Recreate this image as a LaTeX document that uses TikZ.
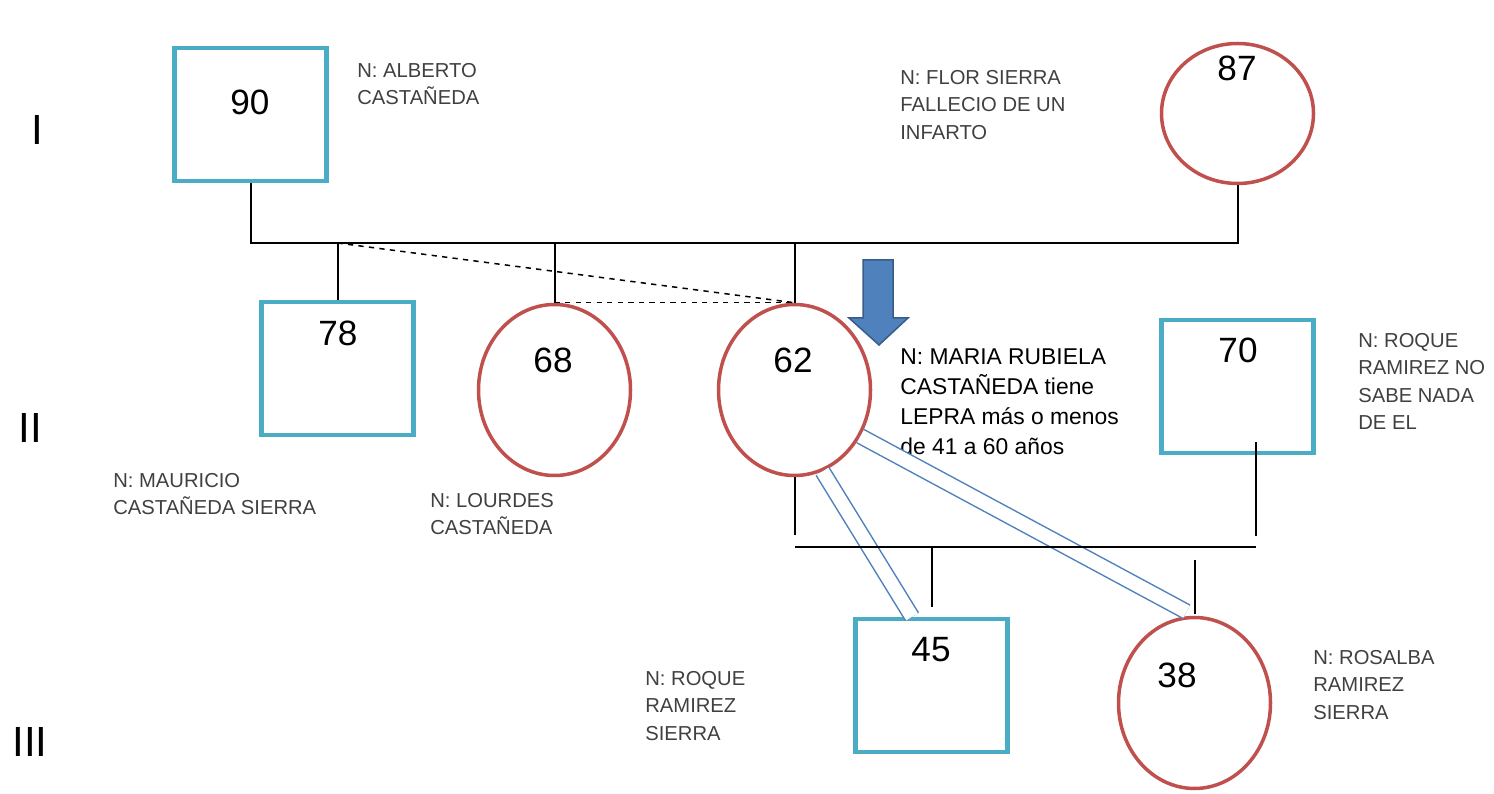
\documentclass[tikz,border=0pt]{standalone}
\usepackage{fontspec}
\setmainfont{Liberation Sans}
\usetikzlibrary{shapes.geometric,calc}
\definecolor{pedblue}{RGB}{75,172,198}
\definecolor{pedred}{RGB}{192,80,77}
\definecolor{bondblue}{RGB}{79,129,189}
\definecolor{arrowfill}{RGB}{79,129,189}
\definecolor{arrowedge}{RGB}{56,93,138}
\definecolor{notegray}{RGB}{64,64,64}

\begin{document}
\begin{tikzpicture}[x=0.2mm, y=-0.2mm,
  male/.style={draw=pedblue, line width=0.9mm, minimum width=30.4mm, minimum height=26.6mm, inner sep=0},
  female/.style={ellipse, draw=pedred, line width=0.7mm, minimum width=30.4mm, minimum height=34.2mm, inner sep=0},
  age/.style={font=\fontsize{20}{20}\selectfont, inner sep=0},
  note/.style={font=\fontsize{11.5}{15.6}\selectfont, text=notegray, align=left, anchor=north west, inner sep=0},
  gen/.style={font=\fontsize{24}{24}\selectfont, inner sep=0},
  family/.style={black, line width=0.4mm},
  bond/.style={draw=bondblue, double=white, line width=0.3mm, double distance=2.7mm}]
\useasboundingbox (0,0) rectangle (1494,794);

% Generations
\node[gen] (genI) at (37,130) {I};
\node[gen] (genII) at (30,428) {II};
\node[gen] (genIII) at (30,742) {III};

% Generation I
\node[male] (n90) at (250.5,114.5) {};
\node[female, minimum height=28mm] (n87) at (1237.5,113.5) {};
\node[age] (a90) at (250,102) {90};
\node[age] (a87) at (1237,68) {87};
\node[note] (nAlberto) at (357,63) {N: ALBERTO\\CASTAÑEDA};
\node[note] (nFlor) at (900,70) {N: FLOR SIERRA\\FALLECIO DE UN\\INFARTO};

% Generation II
\node[male] (n78) at (337.5,368.5) {};
\node[female] (n68) at (554.5,390) {};
\node[female] (n62) at (794.5,390) {};
\node[male] (n70) at (1237.5,386.5) {};
\node[age] (a78) at (338,333) {78};
\node[age] (a68) at (553,360) {68};
\node[age] (a62) at (793,360) {62};
\node[age] (a70) at (1238,350) {70};
\node[note] (nMauricio) at (113,473) {N: MAURICIO\\CASTAÑEDA SIERRA};
\node[note] (nLourdes) at (430,493) {N: LOURDES\\CASTAÑEDA};
\node[note, text=black, font=\fontsize{13}{17.2}\selectfont] (nMaria) at (900,348) {N: MARIA RUBIELA\\CASTAÑEDA tiene\\LEPRA más o menos\\de 41 a 60 años};
\node[note] (nRoque) at (1358,333) {N: ROQUE\\RAMIREZ NO\\SABE NADA\\DE EL};

% Generation III
\node[male] (n45) at (931.5,685.5) {};
\node[female] (n38) at (1194.5,703) {};
\node[age] (a45) at (931,650) {45};
\node[age] (a38) at (1177,675) {38};
\node[note] (nRoqueR) at (645,671) {N: ROQUE\\RAMIREZ\\SIERRA};
\node[note] (nRosalba) at (1313,650) {N: ROSALBA\\RAMIREZ\\SIERRA};

% Bonds
\draw[bond] (n62.-71) -- ($(n45.north)+(-19.5,0)$);
\draw[bond] (n62.-35) -- ($(n38.north)+(-8,-4)$);

% Family lines
\coordinate (sibI) at (795,243);
\draw[family] (n90.south) |- (sibI) -| (n87.south);
\draw[family] (n62.north |- sibI) -- (n62.north);
\draw[family] (n78.north |- sibI) -- (n78.north);
\draw[family] (n68.north |- sibI) -- (n68.north);
\draw[dashed, line width=0.3mm] (n78.north |- sibI) -- (n62.north);
\draw[dashed, line width=0.3mm] (n68.north) -- (n62.north);

\coordinate (sibIIa) at (795,547);
\coordinate (sibIIb) at (1256,547);
\draw[family] (sibIIa) -- (sibIIb);
\draw[family] (n62.south) -- ($(n62.south |- sibIIa)+(0,-12)$);
\draw[family] ($(sibIIb |- n70.south)+(0,-13)$) -- ($(sibIIb)+(0,-11)$);
\draw[family] (n45.north |- sibIIa) -- ($(n45.north)+(0,-10)$);
\draw[family] ($(n38.north |- sibIIa)+(0,13)$) -- ($(n38.north)+(0,-2)$);

% Proband
\draw[arrowedge, fill=arrowfill, line width=0.3mm] (863,260) -- (893,260) -- (893,318) -- (908,318) -- (879,345) -- (849,318) -- (863,318) -- cycle;
\end{tikzpicture}
\end{document}
